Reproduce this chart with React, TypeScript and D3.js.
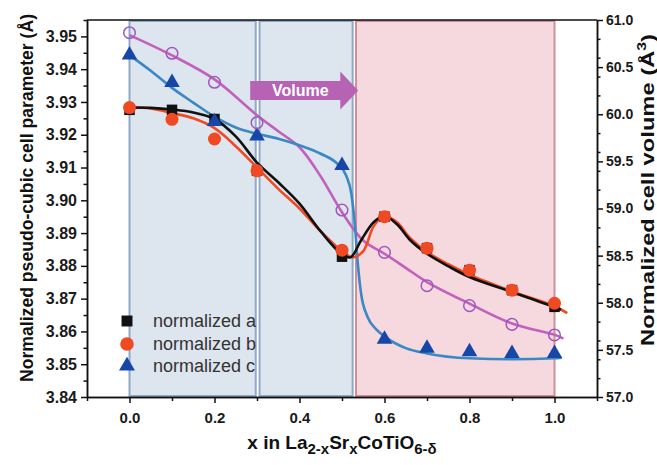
import React, { useEffect, useRef } from 'react'
import * as d3 from 'd3'

// measured points
const xVals = [0, 0.1, 0.2, 0.3, 0.5, 0.6, 0.7, 0.8, 0.9, 1.0]
const aVals = [3.9276, 3.9276, 3.9248, 3.909, 3.8828, 3.895, 3.8854, 3.8787, 3.8726, 3.8675]
const bVals = [3.9283, 3.9247, 3.9187, 3.909, 3.8848, 3.895, 3.8854, 3.8787, 3.8726, 3.8686]
const cVals = [3.9443, 3.9359, 3.924, 3.9196, 3.9106, 3.8576, 3.8549, 3.8538, 3.8533, 3.8533]
const volVals = [60.865, 60.647, 60.339, 59.91, 58.984, 58.535, 58.181, 57.969, 57.771, 57.658]

// fitted curves
const aFitX = [0, 0.05, 0.1, 0.15, 0.2, 0.25, 0.3, 0.35, 0.4, 0.45, 0.5, 0.52, 0.545, 0.575, 0.6, 0.63, 0.66, 0.7, 0.75, 0.8, 0.9, 1.0, 1.015]
const aFitY = [3.9283, 3.9282, 3.9277, 3.9268, 3.9248, 3.9195, 3.9115, 3.9055, 3.899, 3.8905, 3.8835, 3.8826, 3.8878, 3.8934, 3.8952, 3.8926, 3.8879, 3.8837, 3.8799, 3.8766, 3.872, 3.8674, 3.8666]
const bFitX = [0, 0.05, 0.1, 0.15, 0.2, 0.25, 0.3, 0.35, 0.4, 0.45, 0.5, 0.525, 0.55, 0.575, 0.6, 0.63, 0.66, 0.7, 0.75, 0.8, 0.9, 1.0, 1.03]
const bFitY = [3.9283, 3.928, 3.9266, 3.925, 3.922, 3.9165, 3.91, 3.9035, 3.8975, 3.8905, 3.8845, 3.8826, 3.8845, 3.8922, 3.8952, 3.8932, 3.8885, 3.8842, 3.8805, 3.8773, 3.8722, 3.8677, 3.8656]
const cFitX = [0, 0.05, 0.1, 0.15, 0.2, 0.25, 0.3, 0.35, 0.4, 0.45, 0.49, 0.51, 0.522, 0.53, 0.537, 0.545, 0.56, 0.58, 0.6, 0.65, 0.7, 0.8, 0.9, 1.0, 1.017]
const cFitY = [3.9443, 3.9395, 3.9343, 3.9298, 3.9255, 3.9222, 3.9203, 3.9188, 3.9168, 3.9142, 3.911, 3.9075, 3.902, 3.893, 3.881, 3.8715, 3.8645, 3.8607, 3.8585, 3.8549, 3.8533, 3.8518, 3.8515, 3.8518, 3.852]
const volFitX = [0, 0.1, 0.2, 0.3, 0.35, 0.4, 0.45, 0.5, 0.55, 0.6, 0.65, 0.7, 0.8, 0.9, 1.0, 1.021]
const volFitY = [60.84, 60.625, 60.37, 59.99, 59.82, 59.65, 59.34, 58.96, 58.66, 58.52, 58.37, 58.22, 57.99, 57.78, 57.66, 57.62]

const leftTicks = [3.84, 3.85, 3.86, 3.87, 3.88, 3.89, 3.90, 3.91, 3.92, 3.93, 3.94, 3.95]
const rightTicks = [57.0, 57.5, 58.0, 58.5, 59.0, 59.5, 60.0, 60.5, 61.0]
const xTicks = [0, 0.2, 0.4, 0.6, 0.8, 1.0]
const legendLabels = ['normalized a', 'normalized b', 'normalized c']
const blueRegions = [[0, 0.297], [0.306, 0.525]]
const pinkRegions = [[0.533, 1.0]]

const FONT = '"Liberation Sans", Arial, sans-serif'

const App = () => {
    const Chart = useRef<SVGSVGElement>(null)
    const width = 657
    const height = 465

    useEffect(() => {
        const svg = d3.select(Chart.current)
        svg.selectAll('*').remove()

        const x = d3.scaleLinear().domain([-0.1, 1.1]).range([87, 597])
        const y = d3.scaleLinear().domain([3.84, 3.955]).range([397, 20])
        const yv = d3.scaleLinear().domain([57, 61]).range([397, 20])
        const top = 20, bottom = 397

        // shaded regions
        const regions = svg.append('g')
        regions.selectAll('rect.b')
            .data(blueRegions)
            .join('rect')
            .attr('x', d => x(d[0])).attr('y', top + 1)
            .attr('width', d => x(d[1]) - x(d[0])).attr('height', bottom - top - 2)
            .attr('fill', '#dde5ee')
        regions.selectAll('rect.p')
            .data(pinkRegions)
            .join('rect')
            .attr('x', d => x(d[0])).attr('y', top + 1)
            .attr('width', d => x(d[1]) - x(d[0])).attr('height', bottom - top - 2)
            .attr('fill', '#f6d9de')

        // legend
        const lg = svg.append('g')
        const legendY = [321, 344, 366]
        lg.append('path').attr('d', d3.symbol().type(d3.symbolSquare).size(120)()!)
            .attr('transform', `translate(127,${legendY[0]})`).attr('fill', '#111')
        lg.append('circle').attr('cx', 127).attr('cy', legendY[1]).attr('r', 6.8).attr('fill', '#ef4a23')
        lg.append('path').attr('d', d3.symbol().type(d3.symbolTriangle).size(110)()!)
            .attr('transform', `translate(127,${legendY[2]})`).attr('fill', '#1747a6')
        lg.selectAll('text')
            .data(legendLabels)
            .join('text')
            .text(d => d)
            .attr('x', 153)
            .attr('y', (d, i) => legendY[i] + 6)
            .attr('fill', '#333')
            .style('font-family', FONT)
            .style('font-size', '18px')

        // region borders
        regions.append('g').selectAll('rect')
            .data(blueRegions)
            .join('rect')
            .attr('x', d => x(d[0])).attr('y', top + 1)
            .attr('width', d => x(d[1]) - x(d[0])).attr('height', bottom - top - 2)
            .attr('fill', 'none').attr('stroke', '#90a9c6').attr('stroke-width', 2)
        regions.append('g').selectAll('rect')
            .data(pinkRegions)
            .join('rect')
            .attr('x', d => x(d[0])).attr('y', top + 1)
            .attr('width', d => x(d[1]) - x(d[0])).attr('height', bottom - top - 2)
            .attr('fill', 'none').attr('stroke', '#d08e9a').attr('stroke-width', 2)

        // top frame
        svg.append('line')
            .attr('x1', 87).attr('x2', 597).attr('y1', top).attr('y2', top)
            .attr('stroke', '#111').attr('stroke-width', 1.5)

        // axes
        const styleAxis = (g, size) => {
            g.select('.domain').attr('stroke', '#111').attr('stroke-width', 1.5)
            g.selectAll('line').attr('stroke', '#111').attr('stroke-width', 1.5)
            g.selectAll('text').attr('fill', '#1a1a1a')
                .style('font-family', FONT).style('font-weight', 'bold').style('font-size', size)
        }
        const yMinor = y.ticks(23).filter(t => !leftTicks.some(v => Math.abs(v - t) < 1e-6))
        svg.append('g').attr('transform', 'translate(87,0)')
            .call(d3.axisLeft(y).tickValues(yMinor).tickSize(3.5).tickFormat(() => '').tickSizeOuter(0))
            .call(g => styleAxis(g, '16px'))
        svg.append('g').attr('transform', 'translate(87,0)')
            .call(d3.axisLeft(y).tickValues(leftTicks).tickSize(6).tickPadding(4).tickFormat(d3.format('.2f')).tickSizeOuter(0))
            .call(g => styleAxis(g, '16px'))

        const vMinor = yv.ticks(16).filter(t => !rightTicks.some(v => Math.abs(v - t) < 1e-6))
        svg.append('g').attr('transform', 'translate(597,0)')
            .call(d3.axisRight(yv).tickValues(vMinor).tickSize(3.5).tickFormat(() => '').tickSizeOuter(0))
            .call(g => styleAxis(g, '14px'))
        svg.append('g').attr('transform', 'translate(597,0)')
            .call(d3.axisRight(yv).tickValues(rightTicks).tickSize(6).tickPadding(3).tickFormat(d3.format('.1f')).tickSizeOuter(0))
            .call(g => styleAxis(g, '14px'))

        const xMinor = x.ticks(12).filter(t => !xTicks.some(v => Math.abs(v - t) < 1e-6))
        svg.append('g').attr('transform', `translate(0,${bottom})`)
            .call(d3.axisBottom(x).tickValues(xMinor).tickSize(4).tickFormat(() => '').tickSizeOuter(0))
            .call(g => styleAxis(g, '15px'))
        svg.append('g').attr('transform', `translate(0,${bottom})`)
            .call(d3.axisBottom(x).tickValues(xTicks).tickSize(6).tickPadding(9).tickFormat(d3.format('.1f')).tickSizeOuter(0))
            .call(g => styleAxis(g, '15px'))

        // axis titles
        svg.append('text')
            .attr('transform', 'translate(33,198) rotate(-90)')
            .attr('text-anchor', 'middle')
            .attr('textLength', 368).attr('lengthAdjust', 'spacingAndGlyphs')
            .style('font-family', FONT).style('font-weight', 'bold').style('font-size', '18px')
            .attr('fill', '#111')
            .text('Normalized pseudo-cubic cell parameter (Å)')

        const rt = svg.append('text')
            .attr('transform', 'translate(654,190) rotate(-90)')
            .attr('text-anchor', 'middle')
            .attr('textLength', 312).attr('lengthAdjust', 'spacingAndGlyphs')
            .style('font-family', FONT).style('font-weight', 'bold').style('font-size', '18px')
            .attr('fill', '#111')
        rt.append('tspan').text('Normalized cell volume (Å')
        rt.append('tspan').text('3').attr('dy', -8).style('font-size', '12px')
        rt.append('tspan').text(')').attr('dy', 8)

        const xt = svg.append('text')
            .attr('x', 342).attr('y', 449)
            .attr('text-anchor', 'middle')
            .style('font-family', FONT).style('font-weight', 'bold').style('font-size', '19px')
            .attr('fill', '#111')
        xt.append('tspan').text('x in La')
        xt.append('tspan').text('2-x').attr('dy', 5).style('font-size', '15px')
        xt.append('tspan').text('Sr').attr('dy', -5)
        xt.append('tspan').text('x').attr('dy', 5).style('font-size', '15px')
        xt.append('tspan').text('CoTiO').attr('dy', -5)
        xt.append('tspan').text('6-δ').attr('dy', 5).style('font-size', '15px')

        // fitted curves
        const lineL = d3.line<[number, number]>()
            .x(d => x(d[0])).y(d => y(d[1])).curve(d3.curveCatmullRom.alpha(0.5))
        const lineC = d3.line<[number, number]>()
            .x(d => x(d[0])).y(d => y(d[1])).curve(d3.curveMonotoneX)
        const lineV = d3.line<[number, number]>()
            .x(d => x(d[0])).y(d => yv(d[1])).curve(d3.curveCatmullRom.alpha(0.5))
        const curves = svg.append('g').attr('fill', 'none').attr('stroke-width', 2.6)
        curves.append('path').attr('d', lineV(d3.zip(volFitX, volFitY) as [number, number][]))
            .attr('stroke', '#c261bb')
        curves.append('path').attr('d', lineC(d3.zip(cFitX, cFitY) as [number, number][]))
            .attr('stroke', '#3a88c4')
        curves.append('path').attr('d', lineL(d3.zip(bFitX, bFitY) as [number, number][]))
            .attr('stroke', '#ef4a23')
        curves.append('path').attr('d', lineL(d3.zip(aFitX, aFitY) as [number, number][]))
            .attr('stroke', '#111')

        // markers
        svg.append('g')
            .selectAll('path')
            .data(d3.zip(xVals, aVals))
            .join('path')
            .attr('d', d3.symbol().type(d3.symbolSquare).size(110)()!)
            .attr('transform', d => `translate(${x(d[0])},${y(d[1])})`)
            .attr('fill', '#111')
        svg.append('g')
            .selectAll('circle')
            .data(d3.zip(xVals, bVals))
            .join('circle')
            .attr('cx', d => x(d[0])).attr('cy', d => y(d[1])).attr('r', 6.5)
            .attr('fill', '#ef4a23')
        svg.append('g')
            .selectAll('path')
            .data(d3.zip(xVals, cVals))
            .join('path')
            .attr('d', d3.symbol().type(d3.symbolTriangle).size(105)()!)
            .attr('transform', d => `translate(${x(d[0])},${y(d[1])})`)
            .attr('fill', '#1747a6')
        svg.append('g')
            .selectAll('circle')
            .data(d3.zip(xVals, volVals))
            .join('circle')
            .attr('cx', d => x(d[0])).attr('cy', d => yv(d[1])).attr('r', 5.8)
            .attr('fill', 'none').attr('stroke', '#a057c2').attr('stroke-width', 1.5)

        // "Volume" arrow
        const ax0 = x(0.284), axH = x(0.496), axT = x(0.538), ay = y(3.9335)
        svg.append('path')
            .attr('d', `M${ax0},${ay - 9.5}H${axH}V${ay - 19}L${axT},${ay}L${axH},${ay + 19}V${ay + 9.5}H${ax0}Z`)
            .attr('fill', '#b563b2')
        svg.append('text')
            .attr('x', (ax0 + axH) / 2 + 5).attr('y', ay + 6)
            .attr('text-anchor', 'middle')
            .attr('fill', '#fff')
            .style('font-family', FONT).style('font-weight', 'bold').style('font-size', '16px')
            .text('Volume')
    })

    return (
        <div>
            <svg ref={Chart} width={width} height={height}
                style={{ position: 'absolute', left: 0, top: 0, background: '#fff' }}></svg>
        </div>
    )
}

export default App
